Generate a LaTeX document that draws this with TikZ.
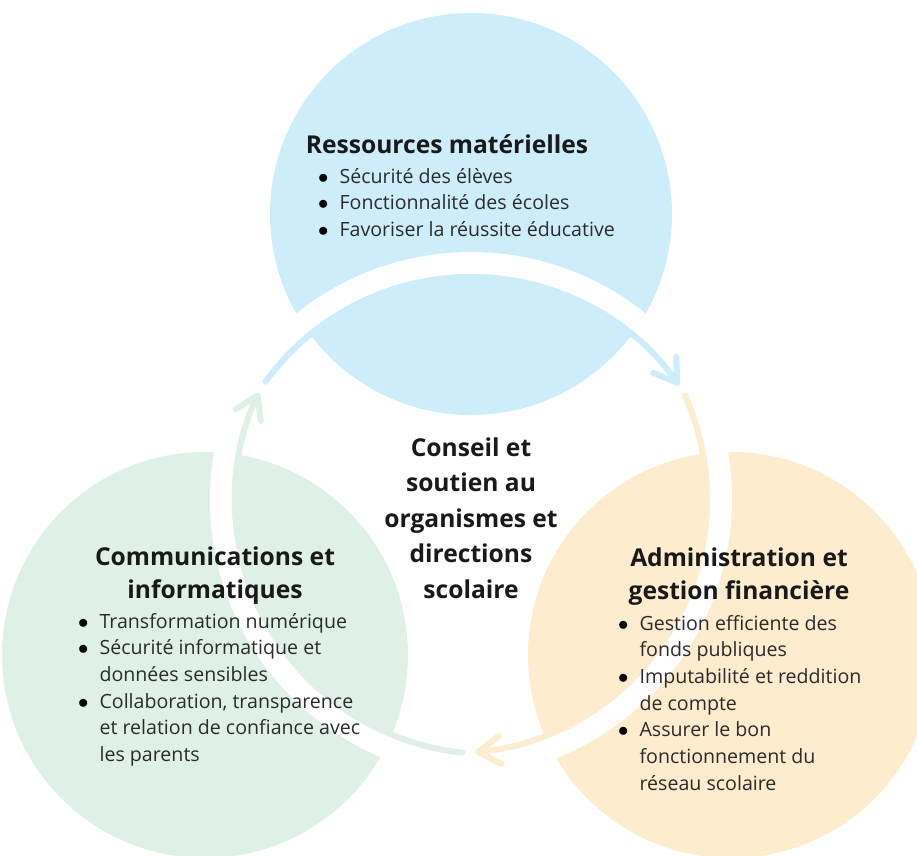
\documentclass[tikz,border=0pt]{standalone}
\usepackage{fontspec}
\setmainfont{Open Sans}
\usetikzlibrary{arrows.meta}

\definecolor{bleuC}{HTML}{CDEDFA}
\definecolor{vertC}{HTML}{DFF1E6}
\definecolor{orangeC}{HTML}{FDECCE}
\definecolor{texte}{HTML}{2B2B2B}

\newcommand{\puce}{\textcolor{black}{$\bullet$}}
\newcommand{\puces}[1]{\begin{tabular}[t]{@{}l@{\hspace{11pt}}l@{}}#1\end{tabular}}

\tikzset{
  titre/.style={font=\bfseries\fontsize{24.6}{33}\selectfont, text=black!90, align=center, inner sep=0pt, anchor=base},
  liste/.style={font=\fontsize{19.6}{26.7}\selectfont, text=texte, inner sep=0pt, anchor=base west},
  bande/.style={draw=white, line width=22pt},
  fleche/.style={line width=6pt, line cap=round, -{Straight Barb[length=22pt,width=28pt,round]}}
}

\begin{document}
\begin{tikzpicture}[x=1pt,y=-1pt]

  \useasboundingbox (0,0) rectangle (917,855);

  % --- Three circles ---
  \fill[bleuC] (471,214) circle (201);
  \fill[vertC] (205,655) circle (203);
  \fill[orangeC] (731,655) circle (203);

  % --- Centres of the arcs ---
  \coordinate (cB) at (471,531);
  \coordinate (cO) at (453,499);
  \coordinate (cV) at (489,500);

  % --- White bands on the outer side ---
  \draw[bande] (cB) ++(-144:268) arc[start angle=-144, end angle=-35, radius=268];
  \draw[bande] (cO) ++(-24:268) arc[start angle=-24, end angle=85, radius=268];
  \draw[bande] (cV) ++(96:268) arc[start angle=96, end angle=205, radius=268];

  % --- Arrows ---
  \path (cB) ++(-144:254) coordinate (bDebut);
  \path (cO) ++(-24:254) coordinate (oDebut);
  \path (cV) ++(96:254) coordinate (vDebut);
  \draw[fleche, bleuC] (bDebut) arc[start angle=-144, end angle=-35, radius=254];
  \draw[fleche, orangeC] (oDebut) arc[start angle=-24, end angle=85, radius=254];
  \draw[fleche, vertC] (vDebut) arc[start angle=96, end angle=205, radius=254];

  % --- Top circle ---
  \node[titre] (tRes) at (447,153) {Ressources matérielles};
  \node[liste] (lRes) at (318,183) {\puces{%
    \puce & Sécurité des élèves\\
    \puce & Fonctionnalité des écoles\\
    \puce & Favoriser la réussite éducative}};

  % --- Left circle ---
  \node[titre] (tCom) at (215,598) {Communications et\\informatiques};
  \node[liste] (lCom) at (78,628) {\puces{%
    \puce & Transformation numérique\\
    \puce & Sécurité informatique et\\
          & données sensibles\\
    \puce & Collaboration, transparence\\
          & et relation de confiance avec\\
          & les parents}};

  % --- Right circle ---
  \node[titre] (tAdm) at (739,599) {Administration et\\gestion financière};
  \node[liste] (lAdm) at (618,630) {\puces{%
    \puce & Gestion efficiente des\\
          & fonds publiques\\
    \puce & Imputabilité et reddition\\
          & de compte\\
    \puce & Assurer le bon\\
          & fonctionnement du\\
          & réseau scolaire}};

  % --- Centre ---
  \node[titre, font=\bfseries\fontsize{24.6}{35.5}\selectfont] (centre) at (471,598)
    {Conseil et\\soutien au\\organismes et\\directions\\scolaire};

\end{tikzpicture}
\end{document}
